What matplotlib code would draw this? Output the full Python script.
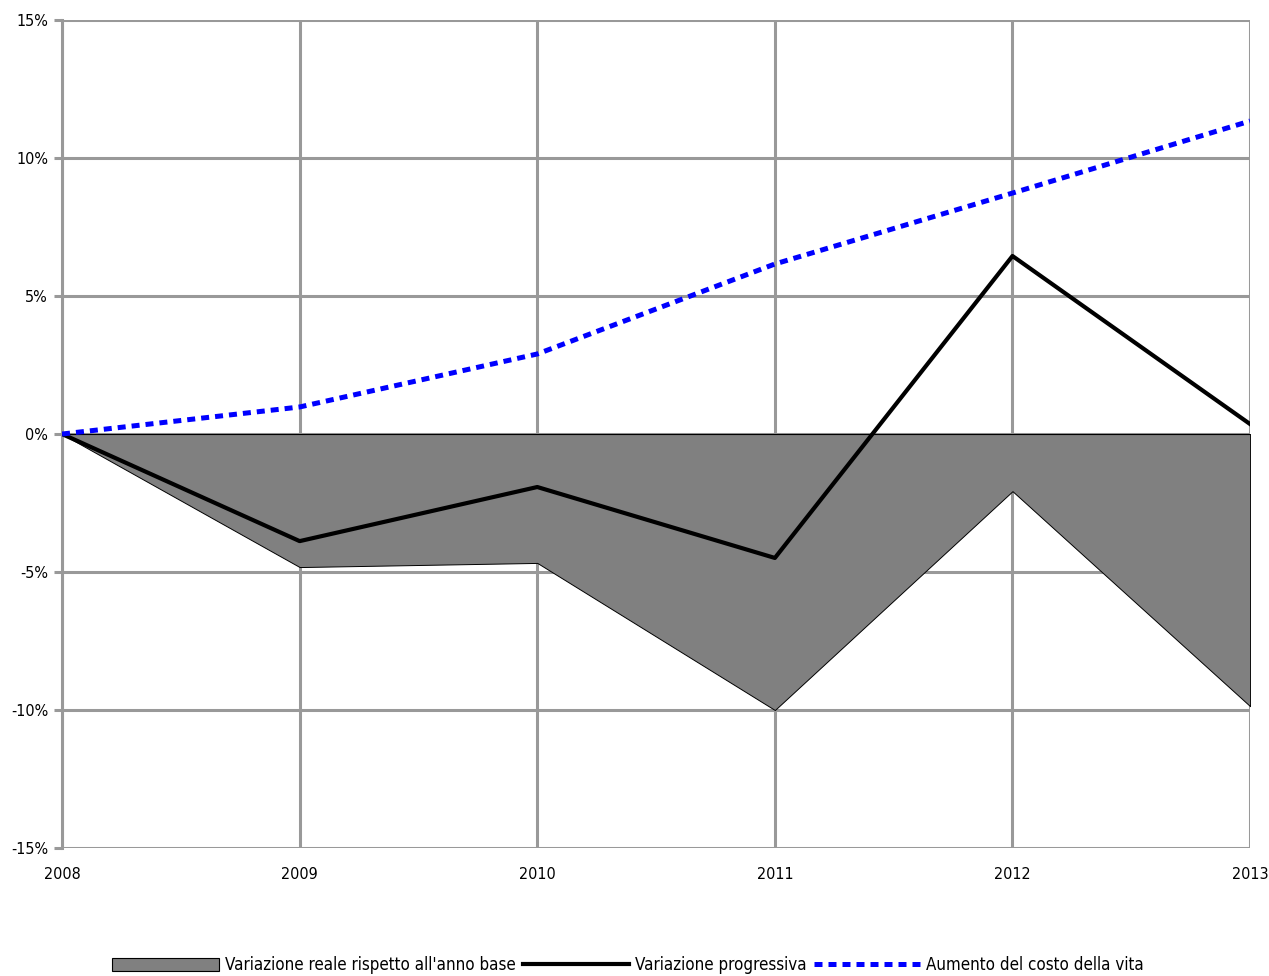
import numpy as np
import matplotlib.pyplot as plt
from matplotlib.patches import Patch
from matplotlib.lines import Line2D

plt.rcParams['font.family'] = ['DejaVu Sans']
plt.rcParams['font.stretch'] = 'condensed'

# Data (percent)
years = [2008, 2009, 2010, 2011, 2012, 2013]
variazione_reale = [0.0, -4.82, -4.67, -10.0, -2.07, -9.86]
variazione_progressiva = [0.0, -3.88, -1.92, -4.49, 6.45, 0.36]
costo_vita = [0.0, 0.98, 2.9, 6.16, 8.73, 11.34]

fig = plt.figure(figsize=(12.69, 9.76), dpi=100)
ax = fig.add_axes([0.0489, 0.1311, 0.9362, 0.8484])

grid_col = '#999999'
ax.fill_between(years, variazione_reale, 0, facecolor='#808080',
                edgecolor='black', linewidth=0.7, zorder=2)
ax.plot(years, [0] * len(years), color='black', linewidth=0.8, zorder=3)
ax.plot(years, variazione_progressiva, color='black', linewidth=3, zorder=4)
ax.plot(years, costo_vita, color='#0000ff', linewidth=3.6,
        linestyle=(0, (1.6, 1.2)), zorder=5)

ax.set_xlim(2008, 2013)
ax.set_ylim(-15, 15)
ax.set_xticks(years)
ax.set_yticks(np.arange(-15, 16, 5))
ax.set_yticklabels([f'{v}%' for v in range(-15, 16, 5)])
ax.grid(True, color=grid_col, linewidth=2.2, zorder=0)
ax.set_axisbelow(True)
for side in ['top', 'bottom', 'right']:
    ax.spines[side].set_visible(False)
ax.spines['left'].set_color(grid_col)
ax.spines['left'].set_linewidth(2.2)
ax.tick_params(axis='y', length=6, width=2.2, color=grid_col, labelsize=11.5, pad=4)
ax.tick_params(axis='x', length=0, labelsize=11.5, pad=14)

handles = [
    Patch(facecolor='#808080', edgecolor='black', linewidth=0.8),
    Line2D([0], [0], color='black', linewidth=3),
    Line2D([0], [0], color='#0000ff', linewidth=3.6, linestyle=(0, (1.6, 1.2))),
]
labels = ["Variazione reale rispetto all'anno base", 'Variazione progressiva',
          'Aumento del costo della vita']
fig.legend(handles, labels, loc='lower center', ncol=3, frameon=False,
           fontsize=12.2, handlelength=6.3, handleheight=0.85, columnspacing=0.4,
           handletextpad=0.35, bbox_to_anchor=(0.495, -0.014))

fig.savefig('out.png', dpi=100)
